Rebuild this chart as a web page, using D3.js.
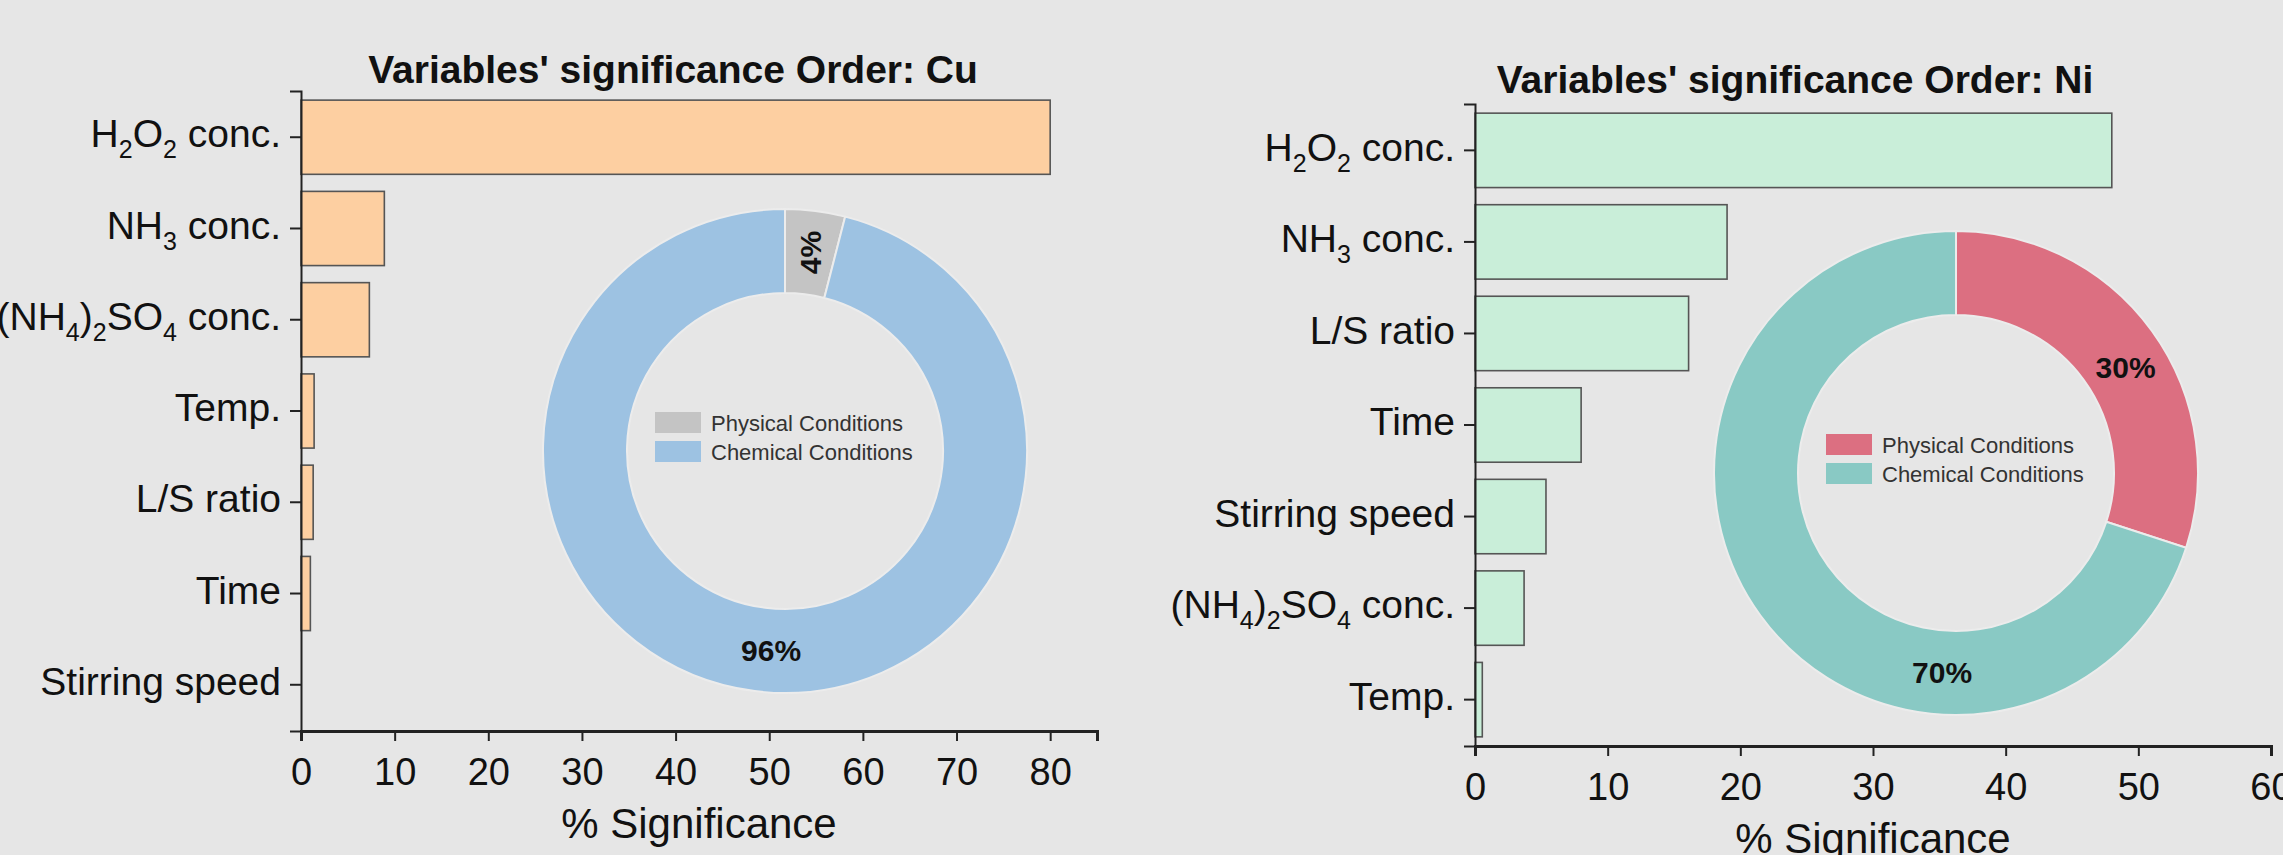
<!DOCTYPE html>
<html>
<head>
<meta charset="utf-8">
<script src="https://cdn.jsdelivr.net/npm/d3@7"></script>
<style>
  html, body { margin: 0; padding: 0; background: #e6e6e6; }
  svg { display: block; font-family: 'Liberation Sans', Arial, sans-serif; }
</style>
</head>
<body>
<div id="chart"></div>
<script>
// "_n" marks a subscript digit
const cuVariables = ['H_2O_2 conc.', 'NH_3 conc.', '(NH_4)_2SO_4 conc.', 'Temp.', 'L/S ratio', 'Time', 'Stirring speed'];
const cuSignificance = [80, 8.9, 7.3, 1.4, 1.3, 1.0, 0];
const niVariables = ['H_2O_2 conc.', 'NH_3 conc.', 'L/S ratio', 'Time', 'Stirring speed', '(NH_4)_2SO_4 conc.', 'Temp.'];
const niSignificance = [48, 19, 16.1, 8, 5.35, 3.7, 0.55];

const conditionLabels = ['Physical Conditions', 'Chemical Conditions'];
const cuConditionShares = [4, 96];
const niConditionShares = [30, 70];

const cuTicks = [0, 10, 20, 30, 40, 50, 60, 70, 80];
const niTicks = [0, 10, 20, 30, 40, 50, 60];

const width = 2283;
const height = 855;
const plotWidth = 796;

const svg = d3.select('#chart').append('svg')
    .attr('width', width)
    .attr('height', height);

svg.append('rect').attr('width', width).attr('height', height).attr('fill', '#e6e6e6');

function writeLabel(text, label) {
    text.text(null);
    const parts = label.split(/(_\d)/).filter(s => s !== '');
    let lowered = false;
    parts.forEach(s => {
        const sub = s.startsWith('_');
        const t = text.append('tspan').text(sub ? s.slice(1) : s);
        if (sub) {
            t.style('font-size', '25px');
            if (!lowered) { t.attr('dy', 11); lowered = true; }
        } else if (lowered) {
            t.attr('dy', -11);
            lowered = false;
        }
    });
}

function drawPanel(p) {
    const x = d3.scaleLinear().domain([0, p.xMax]).range([p.left, p.left + plotWidth]);
    const y = d3.scaleBand()
        .domain(p.variables)
        .range([p.top, p.bottom])
        .paddingInner(0.187)
        .paddingOuter(0.1);

    const rows = p.variables.map((v, i) => ({ name: v, value: p.values[i] }));

    svg.append('g').selectAll('rect')
        .data(rows)
        .join('rect')
        .attr('x', x(0))
        .attr('y', d => y(d.name))
        .attr('width', d => x(d.value) - x(0))
        .attr('height', y.bandwidth())
        .attr('fill', p.barColor)
        .attr('stroke', '#555')
        .attr('stroke-width', 1.6);

    // x axis
    const xAxis = svg.append('g')
        .attr('transform', `translate(0,${p.bottom})`)
        .call(d3.axisBottom(x).tickValues(p.ticks).tickSizeOuter(0).tickSize(10).tickPadding(17));
    xAxis.select('.domain').attr('stroke', '#222').attr('stroke-width', 3);
    xAxis.selectAll('.tick line').attr('stroke', '#222').attr('stroke-width', 2);
    xAxis.selectAll('.tick text')
        .attr('fill', '#111')
        .style('font-size', '38px')
        .style('font-family', "'Liberation Sans', Arial, sans-serif");

    // y axis
    const yAxis = svg.append('g')
        .attr('transform', `translate(${p.left},0)`)
        .call(d3.axisLeft(y).tickSizeOuter(0).tickSize(11).tickPadding(9));
    yAxis.select('.domain').attr('stroke', '#222').attr('stroke-width', 2);
    yAxis.selectAll('.tick line').attr('stroke', '#222').attr('stroke-width', 2);
    yAxis.selectAll('.tick text')
        .attr('fill', '#111')
        .attr('dy', '0.26em')
        .style('font-size', '39px')
        .style('font-family', "'Liberation Sans', Arial, sans-serif")
        .each(function (d) { writeLabel(d3.select(this), d); });

    // titles
    svg.append('text')
        .attr('x', p.titleX)
        .attr('y', p.titleY)
        .attr('text-anchor', 'middle')
        .style('font-size', '39px')
        .style('font-weight', 'bold')
        .attr('fill', '#111')
        .text(p.title);

    svg.append('text')
        .attr('x', p.left + plotWidth / 2)
        .attr('y', p.bottom + 107)
        .attr('text-anchor', 'middle')
        .style('font-size', '42px')
        .attr('fill', '#111')
        .text('% Significance');

    // donut
    const pie = d3.pie().sort(null).value(d => d)(p.shares);
    const arc = d3.arc().innerRadius(158).outerRadius(242);
    const dg = svg.append('g').attr('transform', `translate(${p.cx},${p.cy})`);

    dg.selectAll('path')
        .data(pie)
        .join('path')
        .attr('d', arc)
        .attr('fill', (d, i) => p.donutColors[i])
        .attr('stroke', '#ececec')
        .attr('stroke-width', 2);

    dg.selectAll('text.pct')
        .data(pie)
        .join('text')
        .attr('class', 'pct')
        .attr('transform', (d, i) => {
            const a = i === 0
                ? (d.startAngle + d.endAngle) / 2 + p.physicalLabelShift * Math.PI / 180
                : 184 * Math.PI / 180;
            const [cx, cy] = arc.centroid({ startAngle: a, endAngle: a });
            const rot = i === 0 && p.rotatePhysical ? -90 : 0;
            return `translate(${cx},${cy}) rotate(${rot})`;
        })
        .attr('text-anchor', 'middle')
        .attr('dy', '0.36em')
        .style('font-size', '30px')
        .style('font-weight', 'bold')
        .attr('fill', '#111')
        .text(d => `${d.data}%`);

    const legend = dg.append('g').attr('transform', 'translate(-130,-39)');
    conditionLabels.forEach((label, i) => {
        const row = legend.append('g').attr('transform', `translate(0,${i * 29})`);
        row.append('rect')
            .attr('width', 46)
            .attr('height', 21)
            .attr('fill', p.donutColors[i]);
        row.append('text')
            .attr('x', 56)
            .attr('y', 11)
            .attr('dy', '0.36em')
            .style('font-size', '22px')
            .attr('fill', '#333')
            .text(label);
    });
}

drawPanel({
    variables: cuVariables,
    values: cuSignificance,
    ticks: cuTicks,
    xMax: 85,
    left: 301,
    top: 91,
    bottom: 731,
    barColor: '#fdcfa1',
    title: "Variables' significance Order: Cu",
    titleX: 673,
    titleY: 83,
    shares: cuConditionShares,
    donutColors: ['#c4c4c4', '#9dc2e2'],
    rotatePhysical: true,
    physicalLabelShift: 0,
    cx: 785,
    cy: 451
});

drawPanel({
    variables: niVariables,
    values: niSignificance,
    ticks: niTicks,
    xMax: 60,
    left: 1475,
    top: 104,
    bottom: 746,
    barColor: '#c9eed9',
    title: "Variables' significance Order: Ni",
    titleX: 1795,
    titleY: 93,
    shares: niConditionShares,
    donutColors: ['#dc6f81', '#89c9c4'],
    rotatePhysical: false,
    physicalLabelShift: 4,
    cx: 1956,
    cy: 473
});
</script>
</body>
</html>
